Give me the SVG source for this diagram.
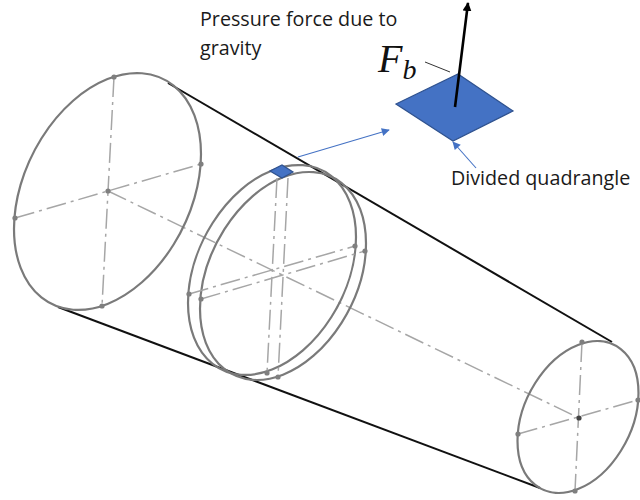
<svg xmlns="http://www.w3.org/2000/svg" width="640" height="500" viewBox="0 0 640 500">
<defs>
<marker id="blue" viewBox="0 0 10 10" refX="9" refY="5" markerWidth="9" markerHeight="8" markerUnits="userSpaceOnUse" orient="auto"><path d="M0 0L10 5L0 10Z" fill="#4472C4"/></marker>
<marker id="black" viewBox="0 0 10 10" refX="9" refY="5" markerWidth="9" markerHeight="9" markerUnits="userSpaceOnUse" orient="auto"><path d="M0 0L10 5L0 10Z" fill="#000"/></marker>
</defs>
<style>
text{font-family:"Open Sans","Noto Sans",sans-serif;font-size:19.7px;fill:#1a1a1a}
.math{font-family:"Liberation Serif","DejaVu Serif",serif;font-style:italic;font-size:40px;fill:#111}
.e{fill:none;stroke:#7a7a7a;stroke-width:2.2;vector-effect:non-scaling-stroke}
.k{fill:none;stroke:#111;stroke-width:2}
.c{fill:none;stroke:#a6a6a6;stroke-width:1.5;stroke-dasharray:20 5 3 5}
.d{fill:#7f7f7f}
.a{fill:none;stroke:#4472C4;stroke-width:1.1}
.q{fill:#4472C4;stroke:#2F528F;stroke-width:1.2}
</style>
<g id="connectors">
<path class="k" d="M168 83L612 342"/>
<path class="k" d="M58 307L540 488"/>
<path class="c" d="M108 191L579 418"/>
<path class="a" d="M298 157L389 130" marker-end="url(#blue)"/>
<path class="a" d="M476 168L453 142" marker-end="url(#blue)"/>
<path d="M425 62L450 72" fill="none" stroke="#333" stroke-width="1"/>
</g>
<g id="end-left">
<circle class="e" r="1" transform="matrix(93.5 -37.4 0 112.4 107.5 191.5)"/>
<path class="c" d="M15 218L201 164M114 77L102 306"/>
<circle class="d" cx="108" cy="191" r="2.6"/><circle class="d" cx="114" cy="77" r="2.6"/><circle class="d" cx="201" cy="164" r="2.6"/><circle class="d" cx="102" cy="306" r="2.6"/><circle class="d" cx="15" cy="218" r="2.6"/>
</g>
<g id="ring">
<circle class="e" r="1" transform="matrix(84 -33.1 0 99.6 272 270)"/>
<circle class="e" r="1" transform="matrix(83 -32.8 0 98.7 283 276)"/>
<path class="c" d="M189 294L355 246M277 178L267 373M201 299L365 251M288 178L278 377"/>
<circle class="d" cx="189" cy="294" r="2.6"/><circle class="d" cx="355" cy="246" r="2.6"/><circle class="d" cx="201" cy="299" r="2.6"/><circle class="d" cx="365" cy="251" r="2.6"/><circle class="d" cx="267" cy="373" r="2.6"/><circle class="d" cx="278" cy="377" r="2.6"/>
</g>
<g id="end-right">
<circle class="e" r="1" transform="matrix(60.5 -24 0 72.1 578 417)"/>
<path class="c" d="M518 434L638 400M582 342L575 491"/>
<circle cx="579" cy="418" r="2.6" fill="#444"/><circle class="d" cx="582" cy="342" r="2.6"/><circle class="d" cx="638" cy="400" r="2.6"/><circle class="d" cx="575" cy="491" r="2.6"/><circle class="d" cx="518" cy="434" r="2.6"/>
</g>
<g id="small-quad"><path class="q" d="M270 171L282 165L293 172L282 178Z"/></g>
<g id="big-quad">
<path class="q" d="M396 104L458 74L513 111L453 141Z"/>
<path d="M455 107L468 3" fill="none" stroke="#000" stroke-width="2.6" marker-end="url(#black)"/>
</g>
<g id="labels">
<text x="200" y="26">Pressure force due to</text>
<text x="200" y="55">gravity</text>
<text x="451" y="185">Divided quadrangle</text>
<text class="math" x="378" y="72">F<tspan dy="7" style="font-size:28px">b</tspan></text>
</g>
</svg>
